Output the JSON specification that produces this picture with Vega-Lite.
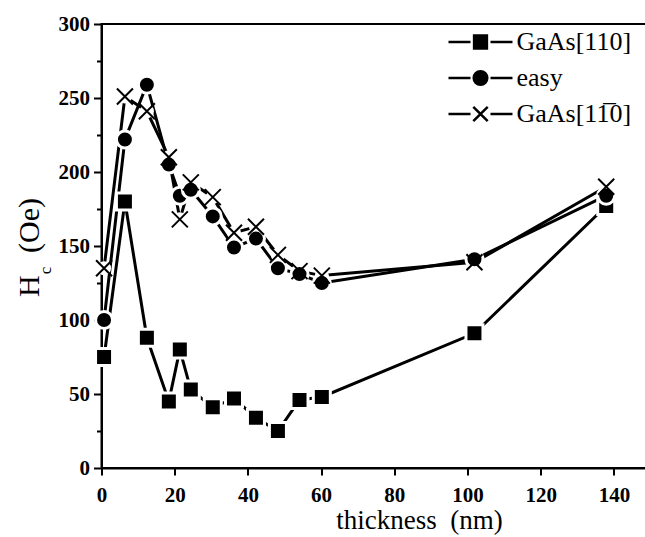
{
  "$schema": "https://vega.github.io/schema/vega-lite/v6.json",
  "width": 549,
  "height": 444,
  "autosize": {"type": "none"},
  "padding": {"left": 101.5, "top": 24, "right": 0, "bottom": 69},
  "background": "white",
  "config": {
    "font": "'Liberation Serif', 'Times New Roman', Times, serif",
    "view": {"stroke": "black", "strokeWidth": 2},
    "axis": {
      "domainColor": "black", "domainWidth": 2, "tickColor": "black", "tickWidth": 2,
      "labelColor": "black", "titleColor": "black", "grid": false,
      "labelFont": "'Liberation Serif', 'Times New Roman', Times, serif", "titleFont": "'Liberation Serif', 'Times New Roman', Times, serif",
      "labelFlush": false, "labelOverlap": false, "labelBound": false
    },
    "legend": {"labelFont": "'Liberation Serif', 'Times New Roman', Times, serif"}
  },
  "data": {"values": [
    {"series": "GaAs[110]", "t": 0.7, "hc": 75},
    {"series": "GaAs[110]", "t": 6.4, "hc": 180},
    {"series": "GaAs[110]", "t": 12.4, "hc": 88},
    {"series": "GaAs[110]", "t": 18.4, "hc": 45},
    {"series": "GaAs[110]", "t": 21.4, "hc": 80},
    {"series": "GaAs[110]", "t": 24.4, "hc": 53},
    {"series": "GaAs[110]", "t": 30.4, "hc": 41},
    {"series": "GaAs[110]", "t": 36.2, "hc": 47},
    {"series": "GaAs[110]", "t": 42.2, "hc": 34},
    {"series": "GaAs[110]", "t": 48.2, "hc": 25},
    {"series": "GaAs[110]", "t": 54.1, "hc": 46},
    {"series": "GaAs[110]", "t": 60.2, "hc": 48},
    {"series": "GaAs[110]", "t": 101.9, "hc": 91},
    {"series": "GaAs[110]", "t": 137.9, "hc": 177},
    {"series": "easy", "t": 0.7, "hc": 100},
    {"series": "easy", "t": 6.4, "hc": 222},
    {"series": "easy", "t": 12.4, "hc": 259},
    {"series": "easy", "t": 18.4, "hc": 205},
    {"series": "easy", "t": 21.4, "hc": 184},
    {"series": "easy", "t": 24.4, "hc": 188},
    {"series": "easy", "t": 30.4, "hc": 170},
    {"series": "easy", "t": 36.2, "hc": 149},
    {"series": "easy", "t": 42.2, "hc": 155},
    {"series": "easy", "t": 48.2, "hc": 135},
    {"series": "easy", "t": 54.1, "hc": 131},
    {"series": "easy", "t": 60.2, "hc": 125},
    {"series": "easy", "t": 101.9, "hc": 141},
    {"series": "easy", "t": 137.9, "hc": 184},
    {"series": "GaAs[11\u03050]", "t": 0.7, "hc": 135},
    {"series": "GaAs[11\u03050]", "t": 6.4, "hc": 251},
    {"series": "GaAs[11\u03050]", "t": 12.4, "hc": 241},
    {"series": "GaAs[11\u03050]", "t": 18.4, "hc": 210},
    {"series": "GaAs[11\u03050]", "t": 21.4, "hc": 168},
    {"series": "GaAs[11\u03050]", "t": 24.4, "hc": 193},
    {"series": "GaAs[11\u03050]", "t": 30.4, "hc": 183},
    {"series": "GaAs[11\u03050]", "t": 36.2, "hc": 159},
    {"series": "GaAs[11\u03050]", "t": 42.2, "hc": 163},
    {"series": "GaAs[11\u03050]", "t": 48.2, "hc": 144},
    {"series": "GaAs[11\u03050]", "t": 54.1, "hc": 133},
    {"series": "GaAs[11\u03050]", "t": 60.2, "hc": 130},
    {"series": "GaAs[11\u03050]", "t": 101.9, "hc": 139},
    {"series": "GaAs[11\u03050]", "t": 137.9, "hc": 190}
  ]},
  "resolve": {"axis": {"y": "independent"}},
  "layer": [
    {
      "mark": {"type": "line", "strokeWidth": 3},
      "encoding": {
        "x": {
          "field": "t", "type": "quantitative",
          "scale": {"domain": [0, 150], "nice": false},
          "axis": {
            "values": [0, 10, 20, 30, 40, 50, 60, 70, 80, 90, 100, 110, 120, 130, 140],
            "labelExpr": "datum.value % 20 === 0 ? datum.label : ''",
            "tickSize": {"condition": {"test": "datum.value % 20 === 0", "value": 7}, "value": 4},
            "labelFontSize": 21, "labelFontWeight": "bold", "labelPadding": 9,
            "title": "thickness\u00a0\u00a0(nm)", "titleFontSize": 27, "titleFontWeight": "normal", "titleColor": "black",
            "titleX": 317.5, "titleY": 60, "titleBaseline": "alphabetic", "titleAlign": "center"
          }
        },
        "y": {
          "field": "hc", "type": "quantitative",
          "scale": {"domain": [0, 300], "nice": false},
          "axis": {
            "values": [0, 25, 50, 75, 100, 125, 150, 175, 200, 225, 250, 275, 300],
            "labelExpr": "datum.value % 50 === 0 ? datum.label : ''",
            "tickSize": {"condition": {"test": "datum.value % 50 === 0", "value": 8}, "value": 5},
            "labelFontSize": 21, "labelFontWeight": "bold", "labelPadding": 4,
            "title": "H\u00a0\u00a0\u00a0(Oe)", "titleFontSize": 30, "titleFontWeight": "normal", "titleColor": "black",
            "titleAngle": 270, "titleX": -63.5, "titleY": 223, "titleBaseline": "alphabetic", "titleAlign": "center"
          }
        },
        "color": {
          "field": "series", "type": "nominal",
          "scale": {"domain": ["GaAs[110]", "easy", "GaAs[11\u03050]"], "range": ["black", "black", "black"]},
          "legend": {
            "orient": "none", "legendX": 366, "legendY": 5, "title": null,
            "symbolSize": 256, "labelFontSize": 26, "labelColor": "black",
            "labelOffset": 23, "rowPadding": 10, "padding": 0,
            "encode": {
              "symbols": {
                "update": {
                  "shape": {"signal": "datum.value === 'easy' ? 'M-4,0H-1.25M1.25,0H4M-0.85,0A0.85,0.85 0 1,0 0.85,0A0.85,0.85 0 1,0 -0.85,0Z' : (datum.value === 'GaAs[110]' ? 'M-4,0H-1.25M1.25,0H4M-0.8,-0.8H0.8V0.8H-0.8Z' : 'M-4,0H-1.25M1.25,0H4M-0.9,-0.9L0.9,0.9M-0.9,0.9L0.9,-0.9')"},
                  "fill": {"value": "black"},
                  "stroke": {"value": "black"},
                  "strokeWidth": {"value": 2.5},
                  "opacity": {"value": 1}
                }
              }
            }
          }
        }
      }
    },
    {
      "transform": [{"filter": "datum.series !== 'GaAs[110]' && datum.series !== 'easy'"}],
      "mark": {"type": "point", "shape": "circle", "size": 196, "opacity": 1, "fill": "white", "strokeWidth": 0},
      "encoding": {
        "x": {"field": "t", "type": "quantitative"},
        "y": {"field": "hc", "type": "quantitative", "axis": null}
      }
    },
    {
      "transform": [{"filter": "datum.series === 'GaAs[110]'"}],
      "mark": {"type": "point", "shape": "square", "size": 289, "opacity": 1, "fill": "black", "stroke": "white", "strokeWidth": 3},
      "encoding": {
        "x": {"field": "t", "type": "quantitative"},
        "y": {
          "field": "hc", "type": "quantitative",
          "axis": {
            "orient": "right", "title": "c", "labels": false, "ticks": false, "domain": false, "grid": false,
            "titleFontSize": 17, "titleFontWeight": "normal", "titleColor": "black", "titleAngle": 270,
            "titleX": -600.5, "titleY": 246, "titleBaseline": "alphabetic", "titleAlign": "center"
          }
        }
      }
    },
    {
      "transform": [{"filter": "datum.series === 'easy'"}],
      "mark": {"type": "point", "shape": "circle", "size": 289, "opacity": 1, "fill": "black", "stroke": "white", "strokeWidth": 3},
      "encoding": {
        "x": {"field": "t", "type": "quantitative"},
        "y": {"field": "hc", "type": "quantitative", "axis": null}
      }
    },
    {
      "transform": [{"filter": "datum.series !== 'GaAs[110]' && datum.series !== 'easy'"}],
      "mark": {"type": "point", "shape": "M-1,-1L1,1M-1,1L1,-1", "size": 256, "opacity": 1, "fill": "transparent", "stroke": "black", "strokeWidth": 2},
      "encoding": {
        "x": {"field": "t", "type": "quantitative"},
        "y": {"field": "hc", "type": "quantitative", "axis": null}
      }
    }
  ]
}
